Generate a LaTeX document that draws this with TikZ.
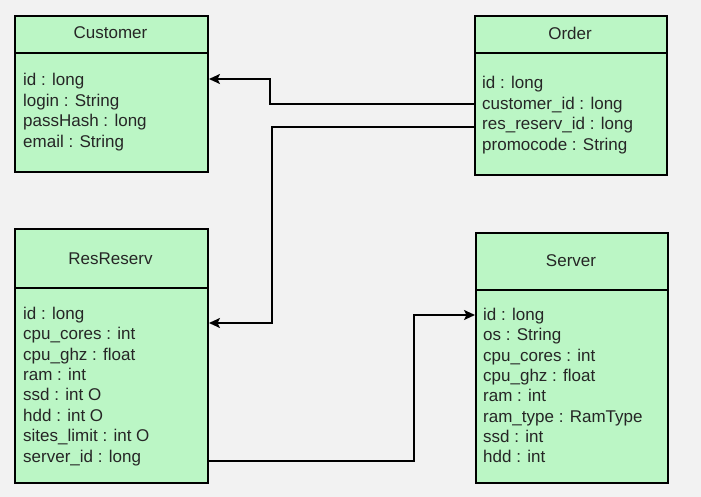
\documentclass[tikz,border=0pt]{standalone}
\usepackage{fontspec}
\setmainfont{Liberation Sans}
\usetikzlibrary{arrows.meta}
\definecolor{bg}{RGB}{242,242,242}
\definecolor{boxfill}{RGB}{187,246,197}
\definecolor{txt}{RGB}{38,38,38}
\begin{document}
\begin{tikzpicture}[x=1pt,y=-1pt,
  box/.style={draw=black, line width=2pt, fill=boxfill, inner sep=0pt, anchor=north west},
  lbl/.style={anchor=base west, inner sep=0pt, text=txt, font=\fontsize{17}{20}\selectfont},
  ttl/.style={anchor=base, inner sep=0pt, text=txt, font=\fontsize{17}{20}\selectfont},
  conn/.style={draw=black, line width=2pt, -{Stealth[length=11pt,width=10pt,inset=2.5pt]}}]
\fill[bg] (0,0) rectangle (701,497);
\useasboundingbox (0,0) rectangle (701,497);

% Customer
\node[box, minimum width=193pt, minimum height=37pt] (custh) at (14,15) {};
\node[box, minimum width=193pt, minimum height=119pt] (custb) at (14,52) {};
\node[ttl] (custt) at (110.5,38.7) {Customer};
\node[lbl] (c1) at (23,86) {id : long};
\node[lbl] (c2) at (23,106.5) {login : String};
\node[lbl] (c3) at (23,127) {passHash : long};
\node[lbl] (c4) at (23,147.3) {email : String};

% Order
\node[box, minimum width=192pt, minimum height=37pt] (ordh) at (474,15) {};
\node[box, minimum width=192pt, minimum height=122pt] (ordb) at (474,52) {};
\node[ttl] (ordt) at (570,40) {Order};
\node[lbl] (o1) at (482,88.3) {id : long};
\node[lbl] (o2) at (482,109.2) {customer\_id : long};
\node[lbl] (o3) at (482,130) {res\_reserv\_id : long};
\node[lbl] (o4) at (482,150.7) {promocode : String};

% ResReserv
\node[box, minimum width=193pt, minimum height=59pt] (resh) at (14,228) {};
\node[box, minimum width=193pt, minimum height=195pt] (resb) at (14,287) {};
\node[ttl] (rest) at (110.5,264.3) {ResReserv};
\node[lbl] (r1) at (23,319.3) {id : long};
\node[lbl] (r2) at (23,339.7) {cpu\_cores : int};
\node[lbl] (r3) at (23,360.1) {cpu\_ghz : float};
\node[lbl] (r4) at (23,380.5) {ram : int};
\node[lbl] (r5) at (23,400.9) {ssd : int O};
\node[lbl] (r6) at (23,421.3) {hdd : int O};
\node[lbl] (r7) at (23,441.7) {sites\_limit : int O};
\node[lbl] (r8) at (23,462.1) {server\_id : long};

% Server
\node[box, minimum width=192pt, minimum height=57pt] (srvh) at (475,232) {};
\node[box, minimum width=192pt, minimum height=193pt] (srvb) at (475,289) {};
\node[ttl] (srvt) at (571,266.7) {Server};
\node[lbl] (s1) at (483,320.3) {id : long};
\node[lbl] (s2) at (483,340.6) {os : String};
\node[lbl] (s3) at (483,361) {cpu\_cores : int};
\node[lbl] (s4) at (483,381.3) {cpu\_ghz : float};
\node[lbl] (s5) at (483,401.7) {ram : int};
\node[lbl] (s6) at (483,422) {ram\_type : RamType};
\node[lbl] (s7) at (483,442.4) {ssd : int};
\node[lbl] (s8) at (483,462.7) {hdd : int};

% helper coordinates
\coordinate (ya) at (0,104.5);
\coordinate (yb) at (0,79);
\coordinate (xa) at (270,0);
\coordinate (yc) at (0,127);
\coordinate (yd) at (0,323);
\coordinate (xb) at (272,0);
\coordinate (ye) at (0,461);
\coordinate (yf) at (0,315);
\coordinate (xc) at (414,0);

% connectors
\draw[conn] (ordb.west |- ya) -| (xa |- yb) -- (custb.east |- yb);
\draw[conn] (ordb.west |- yc) -| (xb |- yd) -- (resb.east |- yd);
\draw[conn] (resb.east |- ye) -| (xc |- yf) -- (srvb.west |- yf);
\end{tikzpicture}
\end{document}
